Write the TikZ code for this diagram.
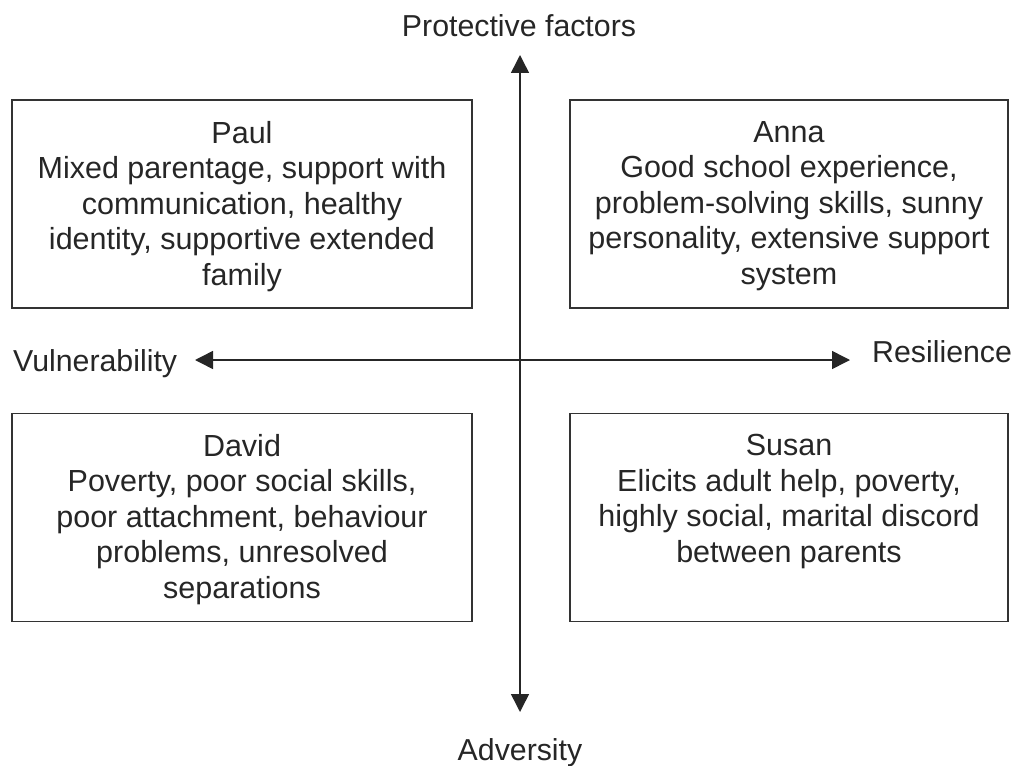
\documentclass[tikz,border=0pt]{standalone}
\usepackage{fontspec}
\setmainfont{Liberation Sans}
\usetikzlibrary{arrows.meta}
\begin{document}
\begin{tikzpicture}[x=1pt,y=-1pt,
  quad/.style={draw=black!80,line width=1.5pt,inner sep=0pt,minimum height=208pt},
  quadtext/.style={inner sep=0pt,align=center,anchor=north,font=\fontsize{30.5}{35.5}\selectfont,text=black!85},
  lbl/.style={inner sep=0pt,anchor=base,font=\fontsize{30.3}{35.5}\selectfont,text=black!85},
  axis/.style={draw=black!85,line width=1.5pt,{Triangle[length=18pt,width=18pt]}-{Triangle[length=18pt,width=18pt]}}]
\useasboundingbox (0,0) rectangle (1019,765);
% boxes
\node[quad,minimum width=460pt] (paulbox) at (242,204) {};
\node[quad,minimum width=438pt] (annabox) at (789,204) {};
\node[quad,minimum width=460pt] (davidbox) at (242,517.5) {};
\node[quad,minimum width=438pt] (susanbox) at (789,517.5) {};
% texts
\node[quadtext] (paul) at (242,121) {Paul\\Mixed parentage, support with\\communication, healthy\\identity, supportive extended\\family};
\node[quadtext] (anna) at (789,121) {Anna\\Good school experience,\\problem-solving skills, sunny\\personality, extensive support\\system};
\node[quadtext] (david) at (242,434) {David\\Poverty, poor social skills,\\poor attachment, behaviour\\problems, unresolved\\separations};
\node[quadtext] (susan) at (789,434) {Susan\\Elicits adult help, poverty,\\highly social, marital discord\\between parents};
% axis labels
\node[lbl] (prot) at (519,37) {Protective factors};
\node[lbl] (adv) at (520,760) {Adversity};
\node[lbl,anchor=base west] (vul) at (13,371) {Vulnerability};
\node[lbl,anchor=base west] (res) at (872,362) {Resilience};
% axes
\coordinate (top) at (520,55);
\coordinate (bot) at (520,712);
\coordinate (lft) at (195,360);
\coordinate (rgt) at (850,360);
\draw[axis] (top) -- (bot);
\draw[axis] (lft) -- (rgt);
\end{tikzpicture}
\end{document}
